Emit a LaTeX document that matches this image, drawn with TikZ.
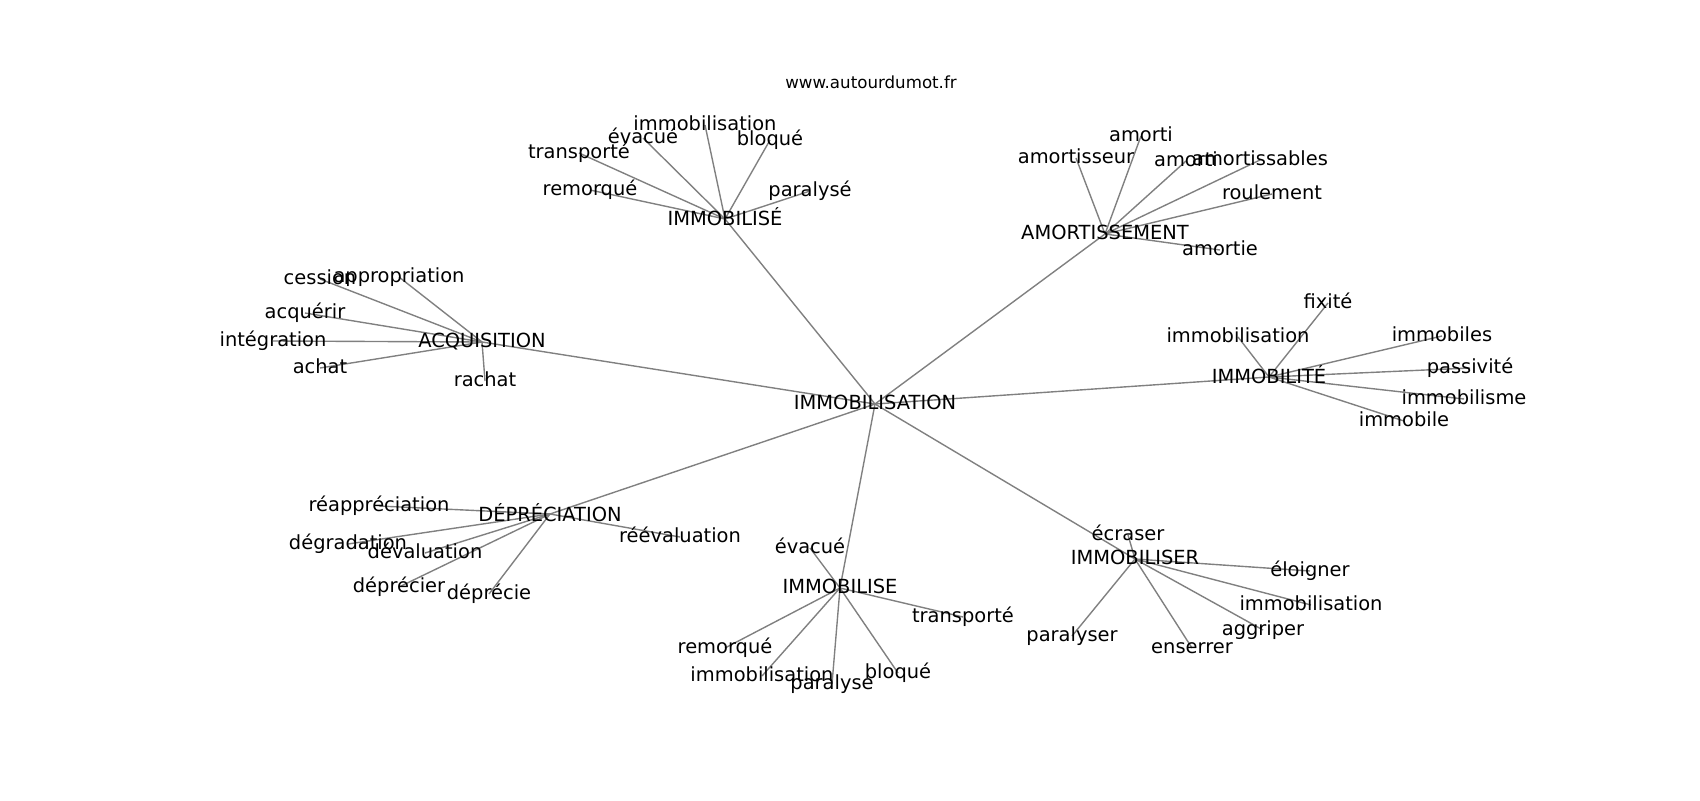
\documentclass[tikz,border=0pt]{standalone}
\usepackage{fontspec}
\setmainfont{DejaVu Sans}
\usetikzlibrary{backgrounds}
\tikzset{
  lbl/.style={inner sep=0pt, outer sep=0pt, anchor=center, text=black,
    font=\fontsize{14}{17}\selectfont, execute at begin node=\vphantom{lp}},
  ttl/.style={inner sep=0pt, outer sep=0pt, anchor=center, text=black,
    font=\fontsize{12}{14}\selectfont, execute at begin node=\vphantom{lp}},
  edge/.style={draw=edgegray, line width=1pt},
}
\definecolor{edgegray}{HTML}{808080}
\begin{document}
\begin{tikzpicture}[x=0.72pt,y=-0.72pt]
\useasboundingbox (0,0) rectangle (1700,800);
\node[ttl] (title) at (871,84) {www.autourdumot.fr};
% main
\node[lbl] (m) at (875,404) {IMMOBILISATION};
% hub A
\node[lbl] (A) at (725,219) {IMMOBILISÉ};
\node[lbl] (a1) at (705,125) {immobilisation};
\node[lbl] (a2) at (643,138) {évacué};
\node[lbl] (a3) at (770,140) {bloqué};
\node[lbl] (a4) at (579,153) {transporté};
\node[lbl] (a5) at (590,190) {remorqué};
\node[lbl] (a6) at (810,191) {paralysé};
% hub B
\node[lbl] (B) at (1105,234) {AMORTISSEMENT};
\node[lbl] (b1) at (1141,136) {amorti};
\node[lbl] (b2) at (1076,158) {amortisseur};
\node[lbl] (b3) at (1186,161) {amorti};
\node[lbl] (b4) at (1260,160) {amortissables};
\node[lbl] (b5) at (1272,194) {roulement};
\node[lbl] (b6) at (1220,250) {amortie};
% hub C
\node[lbl] (C) at (482,342) {ACQUISITION};
\node[lbl] (c1) at (320,279) {cession};
\node[lbl] (c2) at (399,277) {appropriation};
\node[lbl] (c3) at (305,313) {acquérir};
\node[lbl] (c4) at (273,341) {intégration};
\node[lbl] (c5) at (320,368) {achat};
\node[lbl] (c6) at (485,381) {rachat};
% hub D
\node[lbl] (D) at (1269,377) {IMMOBILITÉ};
\node[lbl] (d1) at (1328,303) {fixité};
\node[lbl] (d2) at (1238,337) {immobilisation};
\node[lbl] (d3) at (1442,336) {immobiles};
\node[lbl] (d4) at (1470,368) {passivité};
\node[lbl] (d5) at (1464,399) {immobilisme};
\node[lbl] (d6) at (1404,421) {immobile};
% hub E
\node[lbl] (E) at (550,514) {DÉPRÉCIATION};
\node[lbl] (e1) at (379,506) {réappréciation};
\node[lbl] (e2) at (348,544) {dégradation};
\node[lbl] (e3) at (425,553) {dévaluation};
\node[lbl] (e4) at (680,537) {réévaluation};
\node[lbl] (e5) at (399,587) {déprécier};
\node[lbl] (e6) at (489,594) {déprécie};
% hub F
\node[lbl] (F) at (840,588) {IMMOBILISE};
\node[lbl] (f1) at (810,548) {évacué};
\node[lbl] (f2) at (963,617) {transporté};
\node[lbl] (f3) at (725,648) {remorqué};
\node[lbl] (f4) at (762,676) {immobilisation};
\node[lbl] (f5) at (832,684) {paralyse};
\node[lbl] (f6) at (898,673) {bloqué};
% hub G
\node[lbl] (G) at (1135,559) {IMMOBILISER};
\node[lbl] (g1) at (1128,535) {écraser};
\node[lbl] (g2) at (1310,571) {éloigner};
\node[lbl] (g3) at (1311,605) {immobilisation};
\node[lbl] (g4) at (1263,630) {aggriper};
\node[lbl] (g5) at (1072,636) {paralyser};
\node[lbl] (g6) at (1192,648) {enserrer};
\begin{pgfonlayer}{background}
\fill[white] (0,0) rectangle (1700,800);
\foreach \h in {A,B,C,D,E,F,G} \draw[edge] (m.center) -- (\h.center);
\foreach \h/\l in {A/a, B/b, C/c, D/d, E/e, F/f, G/g}
  \foreach \i in {1,...,6} \draw[edge] (\h.center) -- (\l\i.center);
\end{pgfonlayer}
\end{tikzpicture}
\end{document}
